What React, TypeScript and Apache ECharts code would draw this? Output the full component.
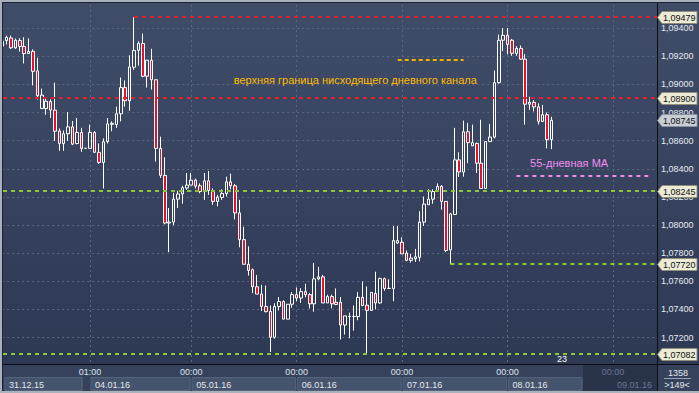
import React, { useEffect, useRef } from "react";
import * as echarts from "echarts";

// ---- time axis: hourly bars grouped by trading day ----
const daySegments = [
  { date: "31.12.15", firstHour: 4, count: 20 },
  { date: "04.01.16", firstHour: 1, count: 23 },
  { date: "05.01.16", firstHour: 0, count: 24 },
  { date: "06.01.16", firstHour: 0, count: 24 },
  { date: "07.01.16", firstHour: 0, count: 24 },
  { date: "08.01.16", firstHour: 0, count: 24 },
  { date: "09.01.16", firstHour: 0, count: 11 },
];
const categories: string[] = [];
const dayFirstIndex: number[] = [];
daySegments.forEach((d) => {
  dayFirstIndex.push(categories.length);
  for (let h = 0; h < d.count; h++) {
    categories.push(`${d.date} ${String(d.firstHour + h).padStart(2, "0")}:00`);
  }
});

// ---- EURUSD H1 candles: [open, close, low, high] ----
const ohlc: number[][] = [
  [1.09307, 1.09272, 1.09237, 1.09321],
  [1.09312, 1.09335, 1.09284, 1.09347],
  [1.0933, 1.0926, 1.09253, 1.09347],
  [1.0926, 1.09314, 1.09253, 1.09326],
  [1.09312, 1.0927, 1.09233, 1.09328],
  [1.0927, 1.09219, 1.09149, 1.09335],
  [1.09219, 1.09235, 1.09219, 1.09328],
  [1.09235, 1.09093, 1.08993, 1.09249],
  [1.09096, 1.08919, 1.08893, 1.09189],
  [1.08828, 1.08924, 1.08828, 1.0897],
  [1.08828, 1.0888, 1.08784, 1.08907],
  [1.08878, 1.08817, 1.08761, 1.08893],
  [1.08817, 1.08667, 1.08598, 1.09012],
  [1.08669, 1.0858, 1.08528, 1.08686],
  [1.0858, 1.08649, 1.08528, 1.08672],
  [1.08649, 1.08698, 1.08598, 1.08803],
  [1.08698, 1.08575, 1.08568, 1.0874],
  [1.0858, 1.08658, 1.08573, 1.08761],
  [1.08658, 1.08545, 1.08521, 1.08691],
  [1.08545, 1.08546, 1.0854, 1.08548],
  [1.08545, 1.08658, 1.08545, 1.08714],
  [1.08658, 1.08517, 1.08514, 1.08669],
  [1.08517, 1.08445, 1.08435, 1.0858],
  [1.08445, 1.08592, 1.0826, 1.08616],
  [1.08593, 1.08719, 1.0858, 1.08761],
  [1.08716, 1.08723, 1.08667, 1.08737],
  [1.08714, 1.08791, 1.08691, 1.08842],
  [1.08791, 1.08977, 1.08737, 1.09049],
  [1.08977, 1.08884, 1.08842, 1.09028],
  [1.08884, 1.09124, 1.08812, 1.09207],
  [1.09122, 1.09242, 1.09103, 1.09477],
  [1.09242, 1.09291, 1.09133, 1.09307],
  [1.09291, 1.09058, 1.09051, 1.09361],
  [1.09058, 1.09172, 1.08977, 1.09172],
  [1.09172, 1.09033, 1.08963, 1.09253],
  [1.09033, 1.08545, 1.08451, 1.09033],
  [1.08545, 1.08353, 1.08335, 1.08628],
  [1.08353, 1.08014, 1.08005, 1.08482],
  [1.08014, 1.08021, 1.07807, 1.08121],
  [1.08021, 1.08184, 1.07998, 1.0823],
  [1.08184, 1.08221, 1.08121, 1.08244],
  [1.08221, 1.08265, 1.08151, 1.08279],
  [1.08263, 1.08284, 1.08249, 1.0837],
  [1.08284, 1.08319, 1.08284, 1.0837],
  [1.08319, 1.08277, 1.0826, 1.0833],
  [1.08279, 1.08238, 1.08226, 1.08296],
  [1.08238, 1.08314, 1.08179, 1.0837],
  [1.08314, 1.08245, 1.08214, 1.08384],
  [1.08242, 1.08168, 1.08144, 1.0826],
  [1.08168, 1.08198, 1.08133, 1.08214],
  [1.08196, 1.08224, 1.08179, 1.08254],
  [1.08224, 1.08307, 1.08203, 1.08344],
  [1.08307, 1.08279, 1.08254, 1.08365],
  [1.08279, 1.08086, 1.0804, 1.08291],
  [1.08086, 1.07896, 1.07842, 1.08179],
  [1.07896, 1.07721, 1.07721, 1.07988],
  [1.07721, 1.07677, 1.0764, 1.07849],
  [1.07682, 1.07561, 1.07516, 1.07691],
  [1.07561, 1.07509, 1.07509, 1.07645],
  [1.07509, 1.07421, 1.07389, 1.07575],
  [1.07421, 1.07384, 1.07379, 1.0757],
  [1.07386, 1.07202, 1.07097, 1.07428],
  [1.07202, 1.07421, 1.07191, 1.07444],
  [1.07421, 1.07456, 1.07393, 1.07488],
  [1.07456, 1.07331, 1.07331, 1.07465],
  [1.07331, 1.07437, 1.07331, 1.07437],
  [1.07437, 1.07505, 1.07412, 1.07523],
  [1.07505, 1.07481, 1.07458, 1.07556],
  [1.07481, 1.07526, 1.07446, 1.07551],
  [1.07526, 1.07505, 1.07486, 1.07582],
  [1.07505, 1.0744, 1.07407, 1.07516],
  [1.0744, 1.07617, 1.07384, 1.07731],
  [1.07617, 1.07631, 1.07607, 1.07702],
  [1.07631, 1.07446, 1.07446, 1.07645],
  [1.07446, 1.07491, 1.07446, 1.07505],
  [1.07491, 1.0744, 1.07407, 1.07505],
  [1.07451, 1.07435, 1.0743, 1.07549],
  [1.07451, 1.07289, 1.07186, 1.07488],
  [1.07289, 1.07354, 1.07221, 1.07354],
  [1.07349, 1.0735, 1.07195, 1.07377],
  [1.07349, 1.0735, 1.07249, 1.07428],
  [1.07349, 1.07486, 1.07323, 1.07523],
  [1.07486, 1.07428, 1.07423, 1.07598],
  [1.0743, 1.07393, 1.07082, 1.07563],
  [1.07393, 1.07521, 1.07393, 1.07521],
  [1.07514, 1.07446, 1.074, 1.07668],
  [1.07446, 1.07619, 1.0744, 1.07626],
  [1.07619, 1.07549, 1.07533, 1.07626],
  [1.07549, 1.0755, 1.07549, 1.07614],
  [1.07549, 1.07889, 1.07458, 1.07993],
  [1.07872, 1.07889, 1.07865, 1.07993],
  [1.07877, 1.07795, 1.07795, 1.07912],
  [1.078, 1.07749, 1.07742, 1.07819],
  [1.07749, 1.07765, 1.07733, 1.07795],
  [1.0776, 1.07774, 1.07737, 1.0783],
  [1.0777, 1.08021, 1.07742, 1.08098],
  [1.08021, 1.08149, 1.07993, 1.08203],
  [1.08144, 1.08184, 1.08144, 1.08254],
  [1.08184, 1.08238, 1.08151, 1.08254],
  [1.08242, 1.08275, 1.08238, 1.08296],
  [1.08275, 1.08168, 1.08109, 1.08284],
  [1.08168, 1.07819, 1.07807, 1.08168],
  [1.07823, 1.08079, 1.0772, 1.08086],
  [1.08075, 1.08463, 1.08075, 1.08691],
  [1.08463, 1.08377, 1.08342, 1.08517],
  [1.08377, 1.08663, 1.08344, 1.08742],
  [1.08663, 1.08586, 1.0844, 1.08726],
  [1.08563, 1.08586, 1.08563, 1.08714],
  [1.0858, 1.0844, 1.0837, 1.08586],
  [1.0844, 1.0826, 1.0826, 1.08749],
  [1.0826, 1.08593, 1.0826, 1.08593],
  [1.08593, 1.08625, 1.08593, 1.08719],
  [1.08625, 1.09012, 1.08616, 1.09098],
  [1.09012, 1.09314, 1.09005, 1.09354],
  [1.09314, 1.09349, 1.09237, 1.094],
  [1.09349, 1.09284, 1.09214, 1.094],
  [1.09314, 1.09221, 1.09203, 1.09323],
  [1.09221, 1.09256, 1.09203, 1.09272],
  [1.09256, 1.09179, 1.09175, 1.09277],
  [1.09179, 1.08859, 1.08714, 1.09214],
  [1.08859, 1.08872, 1.08819, 1.08912],
  [1.08872, 1.0884, 1.08807, 1.08889],
  [1.0884, 1.08737, 1.08714, 1.08865],
  [1.08737, 1.08784, 1.08733, 1.08854],
  [1.08784, 1.08607, 1.08545, 1.088],
  [1.08607, 1.08745, 1.0854, 1.0877],
];

// ---- price scale ----
const priceMin = 1.07;
const priceMax = 1.096;
const priceStep = 0.002;

// ---- horizontal level lines (support / resistance) ----
const RED = "#e0202a";
const GREEN = "#8cc63f";
const levels = [
  { price: 1.09479, fromBar: 30, color: RED },
  { price: 1.089, fromBar: 0, color: RED },
  { price: 1.08245, fromBar: 0, color: GREEN },
  { price: 1.0772, fromBar: 102, color: GREEN },
  { price: 1.07082, fromBar: 0, color: GREEN },
];
const lastClose = ohlc[ohlc.length - 1][1];

// ---- annotations ----
const channelNote = { text: "верхняя граница нисходящего дневного канала", endBar: 108, price: 1.09032, color: "#ffba00" };
const channelMarker = { fromBar: 90, toBar: 105, price: 1.09175, color: "#f4b200" };
const maNote = { text: "55-дневная MA", centerBar: 129, price: 1.08442, color: "#f18ef0" };
const maMarker = { fromBar: 117, toBar: 147, price: 1.08346, color: "#ee88ee" };
const barInfo = { total: "1358", shown: ">149<" };
const objectLabel = "23";

const fmt = (v: number) => v.toFixed(5).replace(".", ",");
const AXIS_FONT = "9px 'Liberation Sans', Arial, sans-serif";
const NOTE_FONT = "11px 'Liberation Sans', Arial, sans-serif";

export default function App() {
  const ref = useRef<HTMLDivElement>(null);

  useEffect(() => {
    const el = ref.current!;
    const chart = echarts.init(el, undefined, { renderer: "svg" });

    // grid placed so that the axis range maps onto the visible plot
    const plotTop = 3;
    const plotBottom = 364.5;
    const pxPerUnit = (337 - 21.7) / (1.094 - 1.072);
    const gridTop = 21.7 - (priceMax - 1.094) * pxPerUnit;
    const gridHeight = (priceMax - priceMin) * pxPerUnit;

    chart.setOption({
      animation: false,
      grid: { left: 2.2, width: 654.8, top: gridTop, height: gridHeight },
      xAxis: {
        type: "category",
        data: categories,
        boundaryGap: false,
        axisLine: { show: false },
        axisTick: { show: false },
        axisLabel: { show: false },
        splitLine: {
          show: true,
          interval: (i: number) => i > 0 && dayFirstIndex.includes(i),
          lineStyle: { color: "#5a6680", type: [2, 3], width: 1 },
        },
      },
      yAxis: {
        type: "value",
        position: "right",
        min: priceMin,
        max: priceMax,
        interval: priceStep,
        axisLine: { show: false },
        axisTick: { show: false },
        axisLabel: {
          formatter: (v: number) => fmt(v),
          color: "#e6ebf2",
          fontSize: 9,
          fontFamily: "'Liberation Sans', Arial, sans-serif",
          margin: 4,
          showMinLabel: false,
          showMaxLabel: false,
        },
        splitLine: { show: true, lineStyle: { color: "#5a6680", type: [2, 3], width: 1 } },
      },
      series: [
        {
          type: "candlestick",
          data: ohlc,
          barWidth: 3,
          z: 2,
          itemStyle: {
            color: "transparent",
            color0: "#ec0f2c",
            borderColor: "#ffffff",
            borderColor0: "#ffffff",
            borderWidth: 1,
          },
        },
      ],
    });

    const P = (i: number, p: number) => chart.convertToPixel({ gridIndex: 0 }, [i, p]) as number[];
    const X = (i: number) => P(i, priceMin)[0];
    const Y = (p: number) => P(0, p)[1];
    const rightEdge = 657;

    const g: any[] = [];

    // level lines
    levels.forEach((l) => {
      const y = Math.round(Y(l.price));
      const x1 = l.fromBar === 0 ? plotTop : X(l.fromBar);
      g.push({
        type: "line", z: 5,
        shape: { x1, y1: y, x2: rightEdge, y2: y },
        style: { stroke: l.color, lineWidth: 2, lineDash: [4, 4] },
      });
    });
    // annotation markers
    [channelMarker, maMarker].forEach((m, k) => {
      const y = Math.round(Y(m.price));
      g.push({
        type: "line", z: 5,
        shape: { x1: X(m.fromBar), y1: y, x2: X(m.toBar), y2: y },
        style: { stroke: m.color, lineWidth: 2, lineDash: k === 0 ? [4, 3] : [4, 4] },
      });
    });
    g.push({
      type: "text", z: 6, x: X(channelNote.endBar), y: Y(channelNote.price),
      style: { text: channelNote.text, fill: channelNote.color, font: NOTE_FONT, align: "right", verticalAlign: "middle" },
    });
    g.push({
      type: "text", z: 6, x: X(maNote.centerBar), y: Y(maNote.price),
      style: { text: maNote.text, fill: maNote.color, font: NOTE_FONT, align: "center", verticalAlign: "middle" },
    });
    g.push({
      type: "text", z: 6, x: 562, y: 359,
      style: { text: objectLabel, fill: "#ffffff", font: AXIS_FONT, align: "center", verticalAlign: "middle" },
    });

    // bottom time strip
    g.push({ type: "rect", z: 10, shape: { x: 2, y: 365, width: 697, height: 26 }, style: { fill: "#36425b" } });
    g.push({ type: "rect", z: 11, shape: { x: 583, y: 365, width: 74, height: 26 }, style: { fill: "#29334a" } });
    for (let d = 0; d < daySegments.length; d++) {
      const first = dayFirstIndex[d];
      const seg = daySegments[d];
      const isFuture = d === daySegments.length - 1;
      if (d > 0) {
        g.push({
          type: "text", z: 13, x: X(first), y: 372,
          style: {
            text: `${String(seg.firstHour).padStart(2, "0")}:00`,
            fill: isFuture ? "#6c7890" : "#dfe5ee", font: AXIS_FONT, align: "center", verticalAlign: "middle",
          },
        });
      }
      if (isFuture) {
        g.push({
          type: "text", z: 13, x: 652, y: 384.5,
          style: { text: seg.date, fill: "#6c7890", font: AXIS_FONT, align: "right", verticalAlign: "middle" },
        });
        continue;
      }
      const left = d === 0 ? 5 : X(first) + 1;
      const right = d === 0 ? X(dayFirstIndex[1]) - 8 : Math.min(X(dayFirstIndex[d + 1]) - 1, 582);
      g.push({
        type: "rect", z: 12,
        shape: { x: left, y: 377.5, width: right - left, height: 13 },
        style: { fill: "#46536d", stroke: "#56637d", lineWidth: 1 },
      });
      g.push({
        type: "text", z: 13, x: left + 4, y: 384.5,
        style: { text: seg.date, fill: "#e3e8ef", font: AXIS_FONT, align: "left", verticalAlign: "middle" },
      });
    }
    // bottom-right bar counter
    g.push({ type: "text", z: 13, x: 678, y: 372.5, style: { text: barInfo.total, fill: "#e3e8ef", font: AXIS_FONT, align: "center", verticalAlign: "middle" } });
    g.push({ type: "line", z: 13, shape: { x1: 664, y1: 378.5, x2: 691, y2: 378.5 }, style: { stroke: "#9aa3b3", lineWidth: 1 } });
    g.push({ type: "text", z: 13, x: 677, y: 384.5, style: { text: barInfo.shown, fill: "#e3e8ef", font: AXIS_FONT, align: "center", verticalAlign: "middle" } });

    // frame and dividers
    g.push({ type: "line", z: 20, shape: { x1: 657.5, y1: 2, x2: 657.5, y2: 391 }, style: { stroke: "#0b0d12", lineWidth: 1 } });
    g.push({ type: "line", z: 20, shape: { x1: 2, y1: plotBottom, x2: 699, y2: plotBottom }, style: { stroke: "#0b0d12", lineWidth: 1 } });
    g.push({ type: "rect", z: 21, shape: { x: 0, y: 0, width: 2, height: 393 }, style: { fill: "#a9b1bd" } });
    g.push({ type: "rect", z: 21, shape: { x: 0, y: 0, width: 699, height: 2 }, style: { fill: "#a9b1bd" } });
    g.push({ type: "rect", z: 21, shape: { x: 0, y: 391, width: 699, height: 2 }, style: { fill: "#a9b1bd" } });
    g.push({ type: "line", z: 21, shape: { x1: 2.5, y1: 2, x2: 2.5, y2: 391 }, style: { stroke: "#1b2232", lineWidth: 1 } });
    g.push({ type: "line", z: 21, shape: { x1: 2, y1: 2.5, x2: 699, y2: 2.5 }, style: { stroke: "#1b2232", lineWidth: 1 } });

    // price tags on the right scale
    const tags = [...levels.map((l) => ({ price: l.price, fill: "#ebebd6", stroke: "#8e8e7a" })), { price: lastClose, fill: "#c9ced6", stroke: "#8c939e" }];
    tags.forEach((t) => {
      const y = Math.round(Y(t.price)) + 0.5;
      g.push({
        type: "polygon", z: 30,
        shape: { points: [[657.5, y], [662, y - 6], [697, y - 6], [697, y + 6], [662, y + 6]] },
        style: { fill: t.fill, stroke: t.stroke, lineWidth: 1 },
      });
      g.push({
        type: "text", z: 31, x: 663, y: y,
        style: { text: fmt(t.price), fill: "#111111", font: AXIS_FONT, align: "left", verticalAlign: "middle" },
      });
    });

    chart.setOption({ graphic: g });
    return () => chart.dispose();
  }, []);

  return (
    <div
      ref={ref}
      style={{
        position: "fixed",
        left: 0,
        top: 0,
        width: 699,
        height: 393,
        background: "linear-gradient(to bottom, #404d69 0%, #2c3752 100%)",
      }}
    />
  );
}
